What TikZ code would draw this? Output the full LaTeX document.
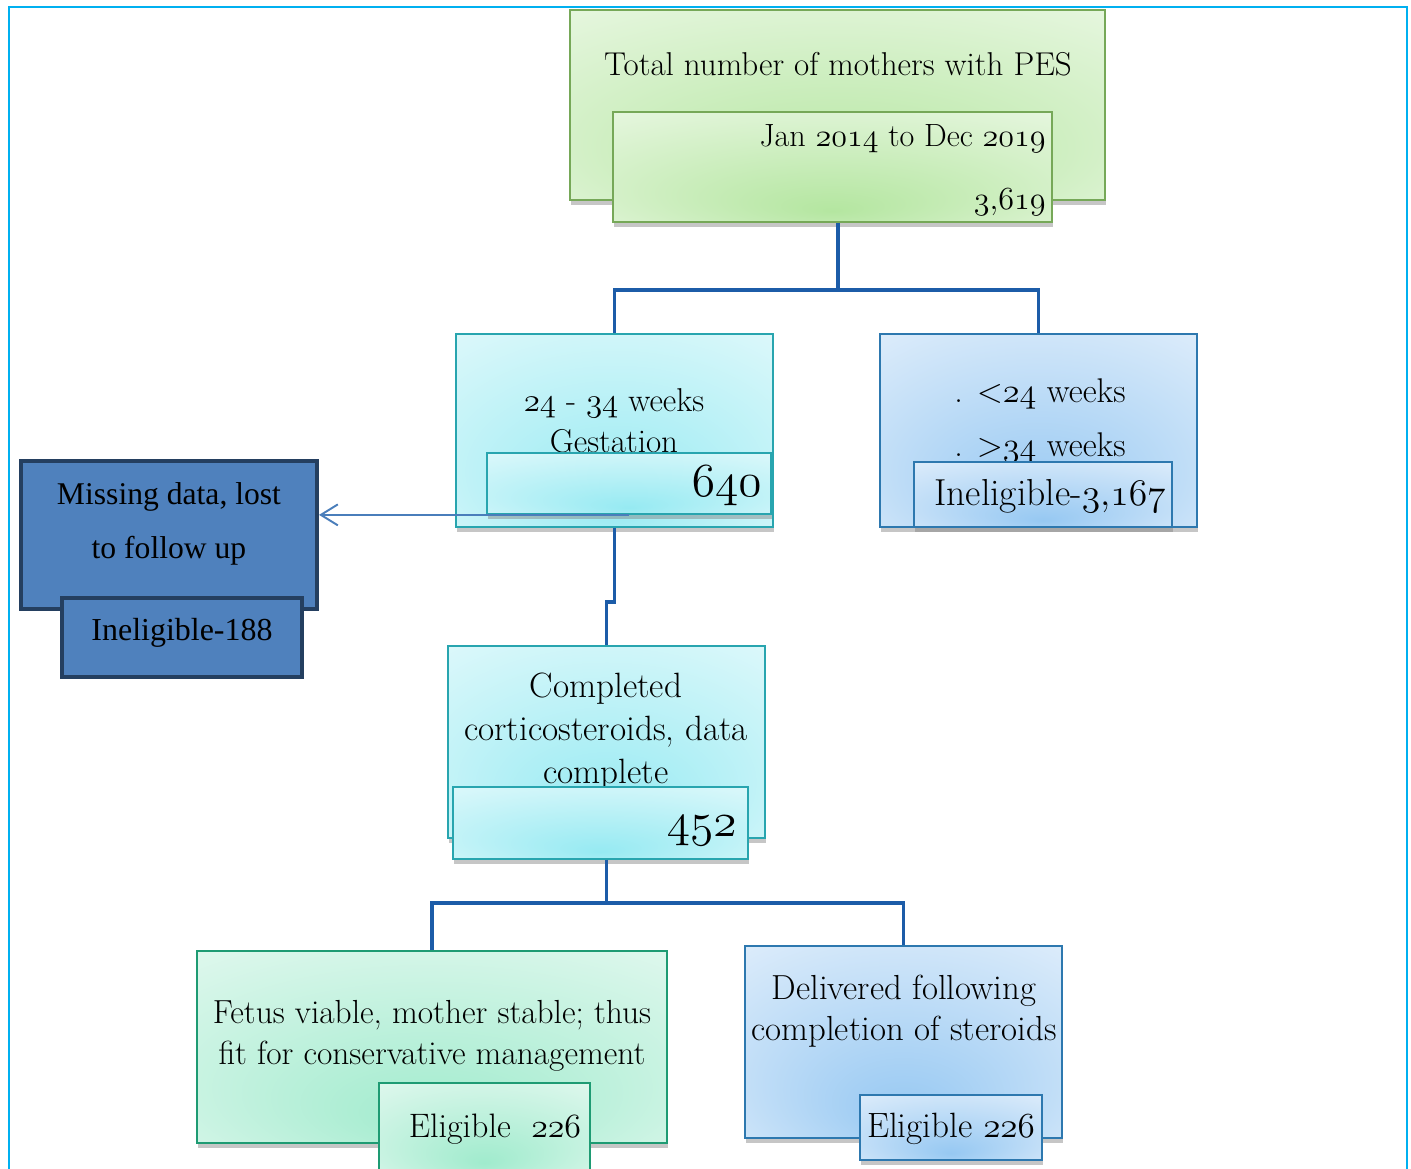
\documentclass[tikz,border=0pt]{standalone}
\usepackage{fix-cm}
\usepackage{fontspec}
\newfontfamily\timesfont{Liberation Serif}
\usetikzlibrary{shadows,fit,calc,arrows.meta}
\definecolor{framecyan}{RGB}{0,176,240}
\definecolor{linkblue}{RGB}{28,92,168}
\definecolor{arrowblue}{RGB}{74,126,187}
\definecolor{greenedge}{RGB}{118,168,88}
\definecolor{greenmid}{RGB}{180,230,160}
\definecolor{greenlight}{RGB}{244,251,240}
\definecolor{cyanedge}{RGB}{40,165,175}
\definecolor{cyanmid}{RGB}{150,234,242}
\definecolor{cyanlight}{RGB}{240,252,253}
\definecolor{blueedge}{RGB}{45,120,175}
\definecolor{bluemid}{RGB}{150,200,242}
\definecolor{bluelight}{RGB}{240,246,253}
\definecolor{mintedge}{RGB}{30,155,115}
\definecolor{mintmid}{RGB}{160,235,205}
\definecolor{mintlight}{RGB}{240,251,246}
\definecolor{missfill}{RGB}{79,129,189}
\definecolor{missedge}{RGB}{36,63,96}
\pgfdeclareradialshading{greenglow}{\pgfpoint{0bp}{-20bp}}{color(0bp)=(greenmid); color(50bp)=(greenlight)}
\pgfdeclareradialshading{cyanglow}{\pgfpoint{0bp}{-20bp}}{color(0bp)=(cyanmid); color(50bp)=(cyanlight)}
\pgfdeclareradialshading{blueglow}{\pgfpoint{0bp}{-20bp}}{color(0bp)=(bluemid); color(50bp)=(bluelight)}
\pgfdeclareradialshading{mintglow}{\pgfpoint{0bp}{-20bp}}{color(0bp)=(mintmid); color(50bp)=(mintlight)}
\newcommand{\osn}[1]{\ensuremath{\mathnormal{#1}}}

\begin{document}
\begin{tikzpicture}[x=0.02cm, y=-0.02cm,
    boxbase/.style={rectangle, line width=1pt, inner sep=0pt, shade, drop shadow={shadow xshift=0.5pt, shadow yshift=-3pt, opacity=0.45}},
    greenbox/.style={boxbase, draw=greenedge, shading=greenglow},
    cyanbox/.style={boxbase, draw=cyanedge, shading=cyanglow},
    bluebox/.style={boxbase, draw=blueedge, shading=blueglow},
    mintbox/.style={boxbase, draw=mintedge, shading=mintglow},
    missbox/.style={rectangle, draw=missedge, fill=missfill, line width=2.3pt, inner sep=0pt},
    boxtext/.style={font=\fontsize{19.5}{23}\selectfont, align=center, inner sep=0pt},
    bignum/.style={font=\fontsize{27}{30}\selectfont, inner sep=0pt, anchor=east},
    link/.style={draw=linkblue, line width=2pt},
    arrow/.style={draw=arrowblue, line width=1.1pt, -{Straight Barb[length=3.4mm, width=4.2mm]}}
]
\path[use as bounding box, clip] (0,0) rectangle (1411,1169);

% Source population
\node[greenbox, fit={(570,10) (1105,200)}] (total) {};
\node[boxtext, font=\fontsize{18.8}{23}\selectfont] (totaltxt) at (838,64) {Total number of mothers with PES};
\node[greenbox, fit={(613,112) (1052,222)}] (dates) {};
\node[boxtext, font=\fontsize{18.3}{23}\selectfont, align=right, anchor=east] (datestxt) at (1046,170) {Jan \osn{2014} to Dec \osn{2019}\\[0.45cm]\osn{3{,}619}};

% Gestation split
\node[cyanbox, fit={(456,334) (773,527)}] (gest) {};
\node[boxtext, font=\fontsize{18.8}{23}\selectfont] (gesttxt) at (614,421) {\osn{24} - \osn{34} weeks\\Gestation};
\node[cyanbox, fit={(487,453) (771,514)}] (n640) {};
\node[bignum] (n640txt) at (762,486) {\osn{640}};
\node[bluebox, fit={(880,334) (1197,527)}] (inelig) {};
\node[boxtext] (weekstxt) at (1040,421) {. <\osn{24} weeks\\[0.27cm]. >\osn{34} weeks};
\node[bluebox, fit={(914,462) (1172,527)}] (n3167) {};
\node[boxtext, font=\fontsize{21.4}{23}\selectfont] (n3167txt) at (1050,496) {Ineligible-\osn{3{,}167}};

% Excluded
\node[missbox, fit={(21,461) (317,609)}] (missing) {};
\node[boxtext, font=\timesfont\fontsize{18}{31}\selectfont] (missingtxt) at (169,524) {Missing data, lost\\to follow up};
\node[missbox, fit={(62,598) (302,677)}] (n188) {};
\node[boxtext, font=\timesfont\fontsize{18.2}{23}\selectfont] (n188txt) at (182,633) {Ineligible-188};

% Completed steroids
\node[cyanbox, fit={(448,646) (765,838)}] (compl) {};
\node[boxtext, font=\fontsize{20}{24.5}\selectfont] (compltxt) at (606,732) {Completed\\corticosteroids, data\\complete};
\node[cyanbox, fit={(453,787) (748,859)}] (n452) {};
\node[bignum] (n452txt) at (737,831) {\osn{452}};

% Outcomes
\node[mintbox, fit={(197,951) (667,1143)}] (fetus) {};
\node[boxtext, font=\fontsize{19}{23}\selectfont] (fetustxt) at (432,1036) {Fetus viable, mother stable; thus\\fit for conservative management};
\node[mintbox, fit={(379,1083) (590,1172)}] (elig1) {};
\node[boxtext, font=\fontsize{19.3}{23}\selectfont] (elig1txt) at (495,1129) {Eligible\ \ \osn{226}};
\node[bluebox, fit={(745,946) (1062,1138)}] (deliv) {};
\node[boxtext, font=\fontsize{19.8}{23}\selectfont] (delivtxt) at (904,1011) {Delivered following\\completion of steroids};
\node[bluebox, fit={(860,1095) (1042,1160)}] (elig2) {};
\node[boxtext, font=\fontsize{20}{23}\selectfont] (elig2txt) at (951,1129) {Eligible \osn{226}};

% Connections
\coordinate (fork1) at (838,290);
\coordinate (fork2) at (606,903);
\draw[link] (dates.south -| fork1) -- (fork1) -| (gest.north);
\draw[link] (fork1) -| (inelig.north);
\draw[link] (gest.south) -- ++(0,74) -| (compl.north);
\draw[link] (compl.south |- n452.south) -- (compl.south |- fork2) -| (fetus.north);
\draw[link] (compl.south |- fork2) -| (deliv.north);
\draw[arrow] (n640.south) -- (n640.south -| missing.east);

% Frame
\draw[framecyan, line width=1.2pt] (9,1200) -- (9,7) -- (1407,7) -- (1407,1200);
\end{tikzpicture}
\end{document}
